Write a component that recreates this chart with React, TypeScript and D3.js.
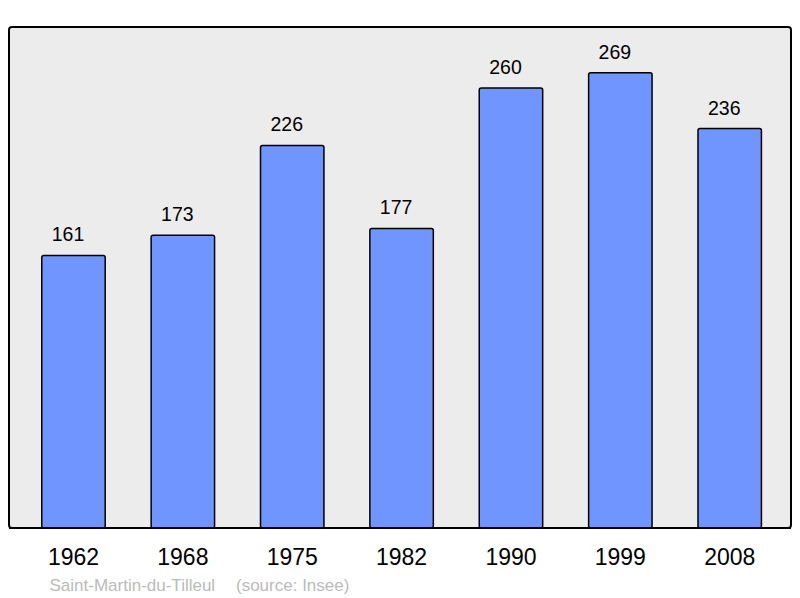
import React from 'react';
import * as d3 from 'd3';

const years = ['1962', '1968', '1975', '1982', '1990', '1999', '2008'];
const population = [161, 173, 226, 177, 260, 269, 236];
const placeName = 'Saint-Martin-du-Tilleul';
const sourceNote = '(source: Insee)';

const W = 800;
const H = 598;
const frame = { left: 9, top: 27, right: 791, bottom: 528 };

const App = () => {
  const x = d3
    .scaleBand<string>()
    .domain(years)
    .range([18.8, 784.4])
    .paddingInner(0.42)
    .paddingOuter(0.21);

  const y = d3.scaleLinear().domain([0, 296]).range([frame.bottom, frame.top]);

  const font = '"Liberation Sans", Arial, sans-serif';

  return (
    <svg
      width={W}
      height={H}
      style={{ position: 'absolute', left: 0, top: 0, display: 'block' }}
      fontFamily={font}
    >
      <rect x={0} y={0} width={W} height={H} fill="#ffffff" />
      <rect
        x={frame.left}
        y={frame.top}
        width={frame.right - frame.left}
        height={frame.bottom - frame.top}
        rx={3}
        fill="#ececec"
        stroke="#000"
        strokeWidth={2}
      />
      {years.map((yr, i) => {
        const v = population[i];
        const bx = x(yr) as number;
        const bw = x.bandwidth();
        return (
          <g key={yr}>
            <rect
              x={bx}
              y={y(v)}
              width={bw}
              height={y(0) - y(v)}
              rx={2}
              fill="#7095ff"
              stroke="#000"
              strokeWidth={1.5}
            />
            {/* value labels sit a little left of the bar centre, as in the original */}
            <text
              x={bx + bw / 2 - 5.5}
              y={y(v) - 14}
              textAnchor="middle"
              fontSize={19.5}
              fill="#000"
            >
              {v}
            </text>
            <text
              x={bx + bw / 2}
              y={564.8}
              textAnchor="middle"
              fontSize={23}
              fill="#000"
            >
              {yr}
            </text>
          </g>
        );
      })}
      <line
        x1={frame.left}
        x2={frame.right}
        y1={frame.bottom}
        y2={frame.bottom}
        stroke="#000"
        strokeWidth={2}
      />
      <text x={49.5} y={591} fontSize={17} fill="#bbbbbb">
        {placeName}
      </text>
      <text x={236} y={591} fontSize={17} fill="#bbbbbb">
        {sourceNote}
      </text>
    </svg>
  );
};

export default App;
